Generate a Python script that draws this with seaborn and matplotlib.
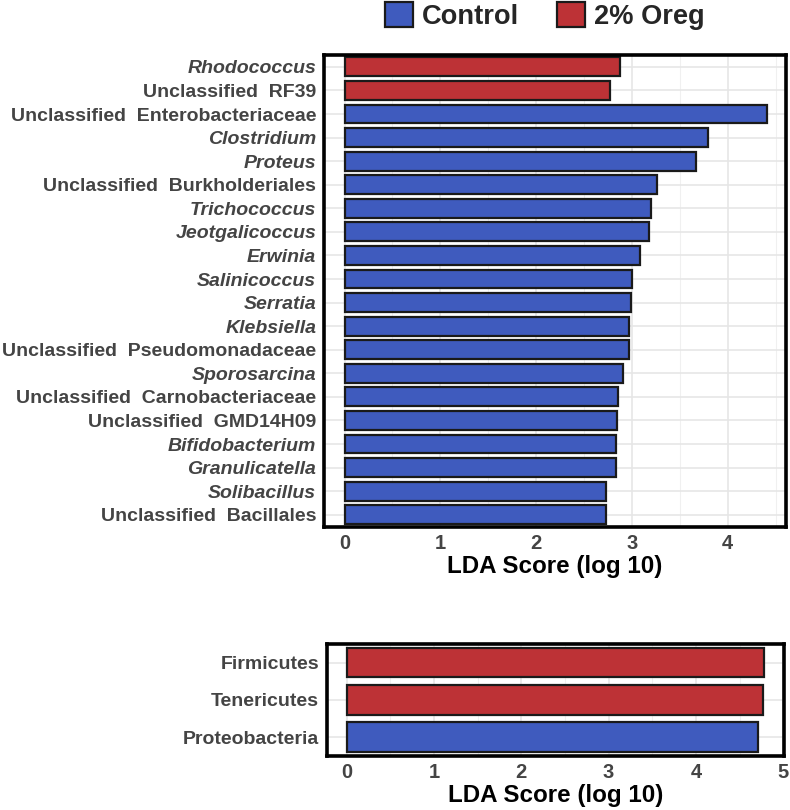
import matplotlib
matplotlib.use("Agg")
import matplotlib.pyplot as plt
from matplotlib.patches import Patch
from matplotlib.ticker import MultipleLocator
import pandas as pd
import seaborn as sns

# genus level LDA scores (top panel)
genus_taxa = ['Rhodococcus', 'Unclassified  RF39', 'Unclassified  Enterobacteriaceae',
              'Clostridium', 'Proteus', 'Unclassified  Burkholderiales', 'Trichococcus',
              'Jeotgalicoccus', 'Erwinia', 'Salinicoccus', 'Serratia', 'Klebsiella',
              'Unclassified  Pseudomonadaceae', 'Sporosarcina', 'Unclassified  Carnobacteriaceae',
              'Unclassified  GMD14H09', 'Bifidobacterium', 'Granulicatella', 'Solibacillus',
              'Unclassified  Bacillales']
genus_scores = [2.88, 2.77, 4.41, 3.79, 3.665, 3.26, 3.195, 3.18, 3.08, 3.00, 2.99, 2.975,
                2.965, 2.91, 2.85, 2.84, 2.83, 2.83, 2.73, 2.725]
genus_groups = ['2% Oreg', '2% Oreg'] + ['Control'] * 18

# phylum level LDA scores (bottom panel)
phylum_taxa = ['Firmicutes', 'Tenericutes', 'Proteobacteria']
phylum_scores = [4.78, 4.765, 4.71]
phylum_groups = ['2% Oreg', '2% Oreg', 'Control']

palette = {'Control': '#3F5BBE', '2% Oreg': '#BD3236'}

sns.set_theme(style='whitegrid')
plt.rcParams['font.family'] = ['Liberation Sans', 'DejaVu Sans']


def lda_panel(ax, taxa, scores, groups, xlim, italic_genus):
    df = pd.DataFrame({'taxon': taxa, 'score': scores, 'group': groups})
    sns.barplot(data=df, x='score', y='taxon', hue='group', palette=palette,
                dodge=False, width=0.8, saturation=1, edgecolor='#1a1a1a', linewidth=1.6,
                legend=False, ax=ax)
    ax.set_xlim(*xlim)
    ax.xaxis.set_major_locator(MultipleLocator(1))
    ax.xaxis.set_minor_locator(MultipleLocator(0.5))
    ax.grid(True, which='major', color='#E6E6E6', linewidth=1.2)
    ax.grid(True, which='minor', axis='x', color='#F0F0F0', linewidth=0.8)
    ax.set_axisbelow(True)
    for s in ax.spines.values():
        s.set_visible(True)
        s.set_color('black')
        s.set_linewidth(2.6)
    ax.set_ylabel('')
    ax.set_xlabel('LDA Score (log 10)', fontsize=17.4, fontweight='bold', color='black', labelpad=1)
    ax.tick_params(axis='both', which='major', length=4, width=1, color='#333333',
                   labelcolor='#444444', pad=1.5)
    ax.tick_params(axis='x', labelsize=14.5)
    ax.tick_params(axis='y', labelsize=14.0)
    for lab in ax.get_xticklabels() + ax.get_yticklabels():
        lab.set_fontweight('bold')
    if italic_genus:
        for lab in ax.get_yticklabels():
            if not lab.get_text().startswith('Unclassified'):
                lab.set_fontstyle('italic')


fig = plt.figure(figsize=(7.9, 8.1), dpi=100)
ax_top = fig.add_axes([0.410, 0.350, 0.585, 0.582])
ax_bot = fig.add_axes([0.4135, 0.067, 0.579, 0.138])

lda_panel(ax_top, genus_taxa, genus_scores, genus_groups, (-0.216, 4.61), True)
lda_panel(ax_bot, phylum_taxa, phylum_scores, phylum_groups, (-0.229, 5.01), False)

handles = [Patch(facecolor=palette['Control'], edgecolor='#1a1a1a', linewidth=1.6, label='Control'),
           Patch(facecolor=palette['2% Oreg'], edgecolor='#1a1a1a', linewidth=1.6, label='2% Oreg')]
fig.legend(handles=handles, loc='center', bbox_to_anchor=(0.69, 0.980), ncol=2, frameon=False,
           prop={'size': 19.6, 'weight': 'bold'}, handlelength=1.0, handleheight=1.0,
           handletextpad=0.35, columnspacing=1.4, borderaxespad=0)

fig.savefig('out.png', dpi=100)
